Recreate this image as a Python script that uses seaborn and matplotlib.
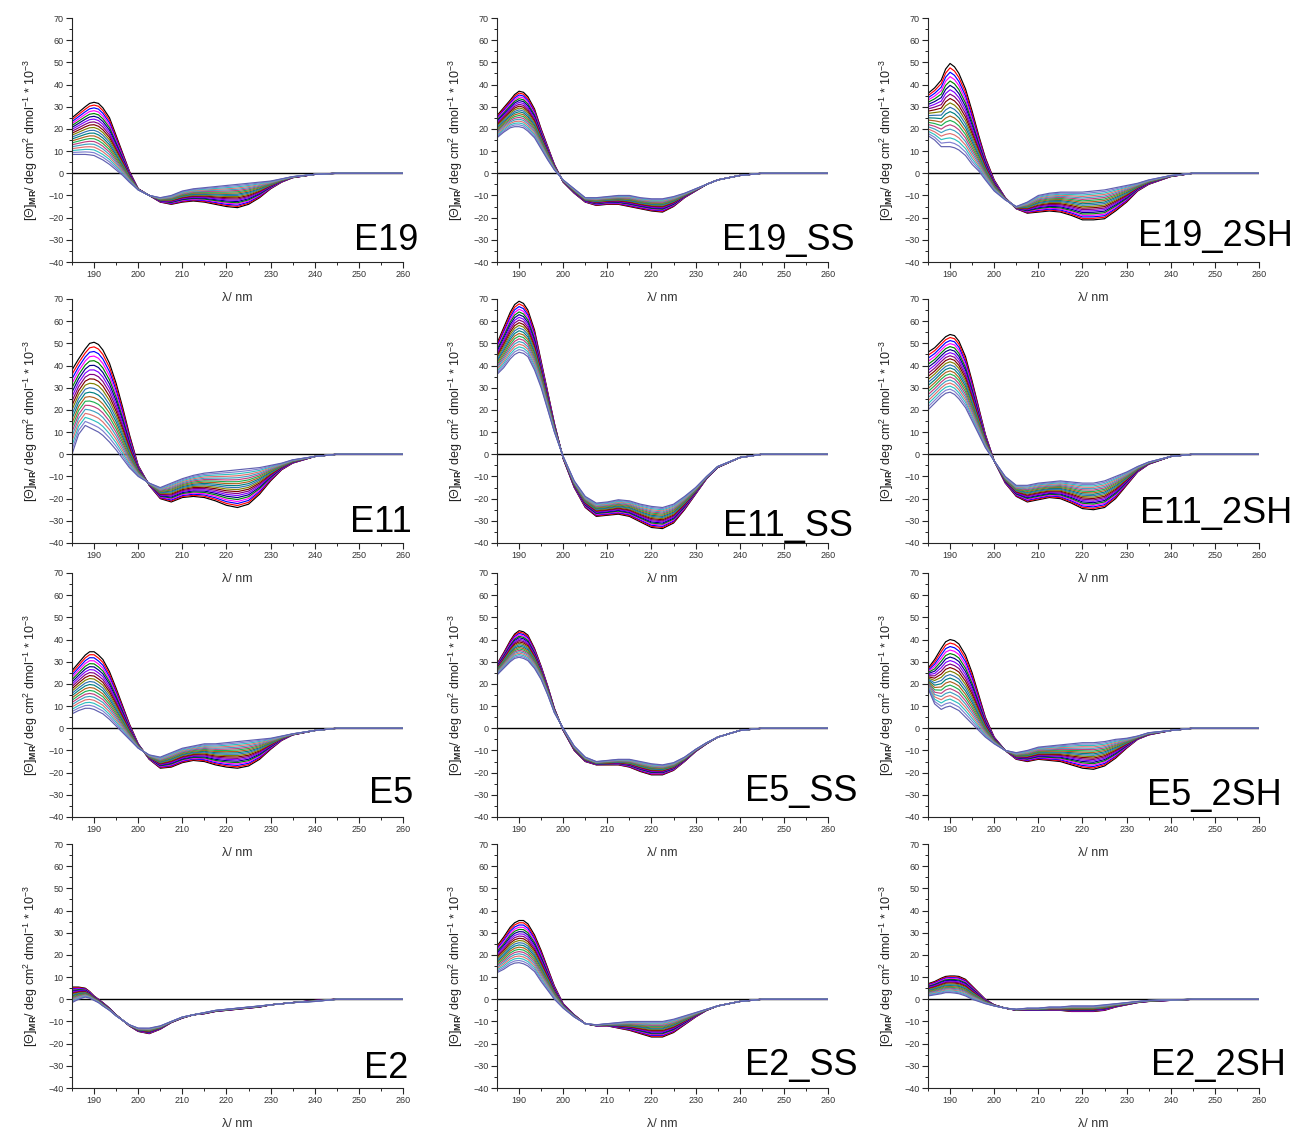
import numpy as np
import pandas as pd
import matplotlib
matplotlib.use("Agg")
import matplotlib.pyplot as plt
from matplotlib.ticker import MultipleLocator
import seaborn as sns

# ---------------- data ----------------
wavelength = [185, 186.5, 188, 189, 190, 191, 192, 193.5, 195, 196.5, 198, 200,
              202.5, 205, 207.5, 210, 212.5, 215, 217.5, 220, 222.5, 225, 227.5, 230,
              232.5, 235, 240, 245, 260]

panel_names = ["E19", "E19_SS", "E19_2SH",
               "E11", "E11_SS", "E11_2SH",
               "E5", "E5_SS", "E5_2SH",
               "E2", "E2_SS", "E2_2SH"]

# lowest-temperature spectrum (first curve) and highest-temperature spectrum (last curve)
E19_cold = [25, 27.5, 30, 31.5, 32, 31.5, 29.5, 25, 17, 9, 1, -7,
            -10, -13, -14, -13, -12.5, -13, -14, -15, -15.5, -14, -11, -7, -4, -2, -0.5, 0, 0]
E19_hot = [8.5, 8.5, 8.5, 8.3, 8, 7, 6, 4, 1.5, -1, -4, -7.5,
           -10, -11, -10, -8, -7, -6.5, -6, -5.5, -5, -4.5, -4, -3.5, -2.5, -1.5, -0.5, 0, 0]
E19_SS_cold = [26, 29.5, 33, 35.5, 37, 36.5, 34.5, 29, 20, 12, 4, -4,
               -9, -13, -14.5, -14, -14, -15, -16, -17, -17.5, -15, -11, -8, -5, -3, -1, 0, 0]
E19_SS_hot = [16, 18.5, 20.5, 21, 21, 20.5, 19, 16, 11, 6, 1.5, -3,
              -7, -11, -11, -10.5, -10, -10, -11, -11.5, -11.5, -10.5, -9, -7, -5, -3, -1, 0, 0]
E19_2SH_cold = [36, 38.5, 42, 47, 49.5, 48, 45, 38, 28, 17, 7, -3,
                -11, -16, -18, -17.5, -17, -17.5, -19, -21, -21, -20.5, -17, -13, -8, -5, -1.5, 0, 0]
E19_2SH_hot = [17, 15, 12, 12, 12, 11.5, 10.5, 8, 4, 1, -3, -8,
               -12, -15, -13, -10, -9, -8.5, -8.5, -8.5, -8, -7.5, -6.5, -5.5, -4.5, -3, -1, 0, 0]
E11_cold = [38, 43, 47.5, 50, 50.5, 49.5, 47, 41, 32, 21, 9, -5,
            -14, -20, -21.5, -19.5, -19, -19.5, -21, -23, -24, -22.5, -18, -12, -7, -4, -1, 0, 0]
E11_hot = [0, 9, 13, 12, 11, 10, 8.5, 5.5, 2, -2, -6, -10,
           -13, -15, -13, -11, -9.5, -8.5, -8, -7.5, -7, -6.5, -6, -5, -4, -2.5, -1, 0, 0]
E11_SS_cold = [50, 57, 64, 67.5, 69, 68, 65, 56, 42, 28, 14, -2,
               -15, -24, -28, -27.5, -27, -28, -30.5, -33, -33.5, -31, -25, -18, -11, -6, -1.5, 0, 0]
E11_SS_hot = [36, 39, 43, 45, 46, 45.5, 44, 38, 30, 20, 10, -1,
              -12, -19, -22, -21.5, -20.5, -21, -22.5, -23.5, -24, -22.5, -19, -15, -10, -5.5, -1.5, 0, 0]
E11_2SH_cold = [46, 48, 51, 53, 54, 53.5, 51, 44, 33, 21, 9, -3,
                -13, -19, -21.5, -20.5, -19.5, -20, -22, -24.5, -25, -24, -20, -14, -8, -4.5, -1, 0, 0]
E11_2SH_hot = [20, 23, 26, 27.5, 28, 27, 25, 21, 15, 9, 3, -3,
               -10, -14, -14, -13, -12.5, -12, -12.5, -13, -13, -12, -10, -8, -5.5, -3.5, -1, 0, 0]
E5_cold = [26, 29.5, 33, 34.5, 34.5, 33, 31, 25.5, 18, 10, 2, -7,
           -14, -18, -17.5, -15.5, -14.5, -15, -16.5, -17.5, -18, -17, -14, -9.5, -5.5, -3, -1, 0, 0]
E5_hot = [6.5, 8, 9, 9, 8.5, 7.5, 6.5, 4, 1, -2, -5, -9,
          -12, -13, -11, -9, -8, -7, -7, -6.5, -6, -5.5, -5, -4.5, -3.5, -2.5, -1, 0, 0]
E5_SS_cold = [29, 34, 39.5, 42.5, 44, 43.5, 42, 36, 28, 19, 9, -1,
              -10, -15, -16.5, -16.5, -16.5, -17.5, -19.5, -21, -21, -19, -15, -10.5, -7, -4, -1, 0, 0]
E5_SS_hot = [24, 27, 30, 31.5, 32, 31.5, 30.5, 27, 22, 15, 7, 0,
             -8, -13, -15, -14.5, -14, -14, -15, -16, -16.5, -15.5, -13, -9.5, -6.5, -4, -1, 0, 0]
E5_2SH_cold = [27, 31, 36, 39, 40, 39.5, 38, 33, 25, 15, 5, -4,
               -10, -14, -15, -14, -14.5, -15, -16.5, -18, -18.5, -17, -13.5, -9, -5, -3, -1, 0, 0]
E5_2SH_hot = [18, 11, 8.5, 9.5, 10, 9, 8, 5, 2, -1, -4, -7,
              -10, -11, -10, -8.5, -8, -7.5, -7, -6.5, -6.5, -6, -5, -4.5, -3.5, -2, -1, 0, 0]
E2_cold = [5.5, 5.5, 5, 3.5, 1.5, 0, -1.5, -4, -7, -9.5, -12, -14.5,
           -15.5, -13.5, -10.5, -8.5, -7, -6.5, -5.5, -5, -4.5, -4, -3.5, -2.5, -2, -1.5, -0.5, 0, 0]
E2_hot = [-1.5, 0, 1, 0.5, -0.5, -1.5, -3, -5, -7.5, -9.5, -11.5, -13,
          -13, -12, -10, -8, -7, -6, -5, -4.5, -4, -3.5, -3, -2.5, -2, -1.5, -1, 0, 0]
E2_SS_cold = [24, 28, 32.5, 34.5, 35.5, 35.5, 34, 29, 22, 14, 6, -2,
              -7, -11, -12, -12, -13, -14, -15.5, -17, -17, -15, -11.5, -8, -5, -3, -1, 0, 0]
E2_SS_hot = [12, 13.5, 15.5, 16.3, 16.5, 16, 15, 12.5, 8, 4, 0, -4,
             -8, -11, -11.5, -11, -10.5, -10, -10, -10, -10, -9, -7.5, -6, -4.5, -3, -1, 0, 0]
E2_2SH_cold = [7, 8, 9.5, 10.3, 10.5, 10.5, 10.3, 9, 6, 3, 0, -2.5,
               -4, -5, -5, -5, -5, -5, -5.5, -5.5, -5.5, -5, -3.5, -2.5, -1.5, -1, -0.5, 0, 0]
E2_2SH_hot = [1.5, 2, 2.5, 3, 3, 2.8, 2.5, 1.5, 0, -1, -2, -3,
              -4, -4.5, -4, -4, -3.5, -3.5, -3, -3, -3, -2.5, -2, -1.5, -1, -0.5, -0.3, 0, 0]

cold_spectra = [E19_cold, E19_SS_cold, E19_2SH_cold, E11_cold, E11_SS_cold, E11_2SH_cold,
                E5_cold, E5_SS_cold, E5_2SH_cold, E2_cold, E2_SS_cold, E2_2SH_cold]
hot_spectra = [E19_hot, E19_SS_hot, E19_2SH_hot, E11_hot, E11_SS_hot, E11_2SH_hot,
               E5_hot, E5_SS_hot, E5_2SH_hot, E2_hot, E2_SS_hot, E2_2SH_hot]
n_curves = 20

x_ticks = [190, 200, 210, 220, 230, 240, 250, 260]
y_ticks = [-40, -30, -20, -10, 0, 10, 20, 30, 40, 50, 60, 70]

curve_colors = ['#000000', '#FF0000', '#0000FF', '#FF00FF', '#008000', '#000080', '#8000FF',
                '#800080', '#800000', '#808000', '#3070B0', '#008080', '#B06020', '#20B050',
                '#C04080', '#40A0C0', '#E07070', '#30C0C0', '#8080D0', '#6060B0']

# ---------------- layout ----------------
sns.set_style("ticks")
plt.rcParams['font.family'] = ['Liberation Sans', 'DejaVu Sans']
plt.rcParams['mathtext.fontset'] = 'custom'
plt.rcParams['mathtext.rm'] = 'Liberation Sans'
plt.rcParams['mathtext.it'] = 'Liberation Sans:italic'
plt.rcParams['mathtext.bf'] = 'Liberation Sans:bold'

W, H = 1299, 1131
fig = plt.figure(figsize=(W / 100, H / 100), dpi=100)

col_left = [72, 497, 928]
row_top = [18, 299, 573, 844]
ax_w, ax_h = 331, 244
label_dx = [1.045, 1.08, 1.103, 1.027, 1.075, 1.10, 1.03, 1.09, 1.07, 1.015, 1.09, 1.08]
label_dy = [0.05, 0.05, 0.064, 0.045, 0.03, 0.08, 0.057, 0.064, 0.05, 0.04, 0.055, 0.052]

ylab = r'[Θ]$_{\mathbf{MR}}$/ deg cm$^2$ dmol$^{-1}$ * 10$^{-3}$'

for i, name in enumerate(panel_names):
    r, c = divmod(i, 3)
    ax = fig.add_axes([col_left[c] / W, 1 - (row_top[r] + ax_h) / H, ax_w / W, ax_h / H])
    ax.patch.set_alpha(0)
    cold = np.array(cold_spectra[i], dtype=float)
    hot = np.array(hot_spectra[i], dtype=float)
    rows = []
    for k in range(n_curves):
        t = k / (n_curves - 1)
        vals = cold + t * (hot - cold)
        for w, v in zip(wavelength, vals):
            rows.append((k, w, v))
    df = pd.DataFrame(rows, columns=['curve', 'wl', 'theta'])
    ax.axhline(0, color='black', lw=1.0, zorder=0)
    sns.lineplot(data=df, x='wl', y='theta', hue='curve', palette=curve_colors[:n_curves],
                 legend=False, ax=ax, sort=False, estimator=None, lw=0.85)
    ax.set_xlim(185, 260)
    ax.set_ylim(-40, 70)
    ax.set_xticks(x_ticks)
    ax.set_yticks(y_ticks)
    ax.xaxis.set_minor_locator(MultipleLocator(5))
    ax.yaxis.set_minor_locator(MultipleLocator(5))
    ax.tick_params(which='major', direction='out', length=4, width=0.8, labelsize=6.5,
                   labelcolor='#333333', pad=2)
    ax.tick_params(which='minor', direction='out', length=2.5, width=0.7)
    for s in ['top', 'right']:
        ax.spines[s].set_visible(False)
    for s in ['left', 'bottom']:
        ax.spines[s].set_linewidth(0.8)
    ax.set_xlabel('λ/ nm', fontsize=9, color='#333333', labelpad=9)
    ax.set_ylabel(ylab, fontsize=9, color='#222222', labelpad=6)
    ax.text(label_dx[i], label_dy[i], name, transform=ax.transAxes, ha='right',
            va='baseline', fontsize=26, color='black')

fig.savefig('out.png', dpi=100)
